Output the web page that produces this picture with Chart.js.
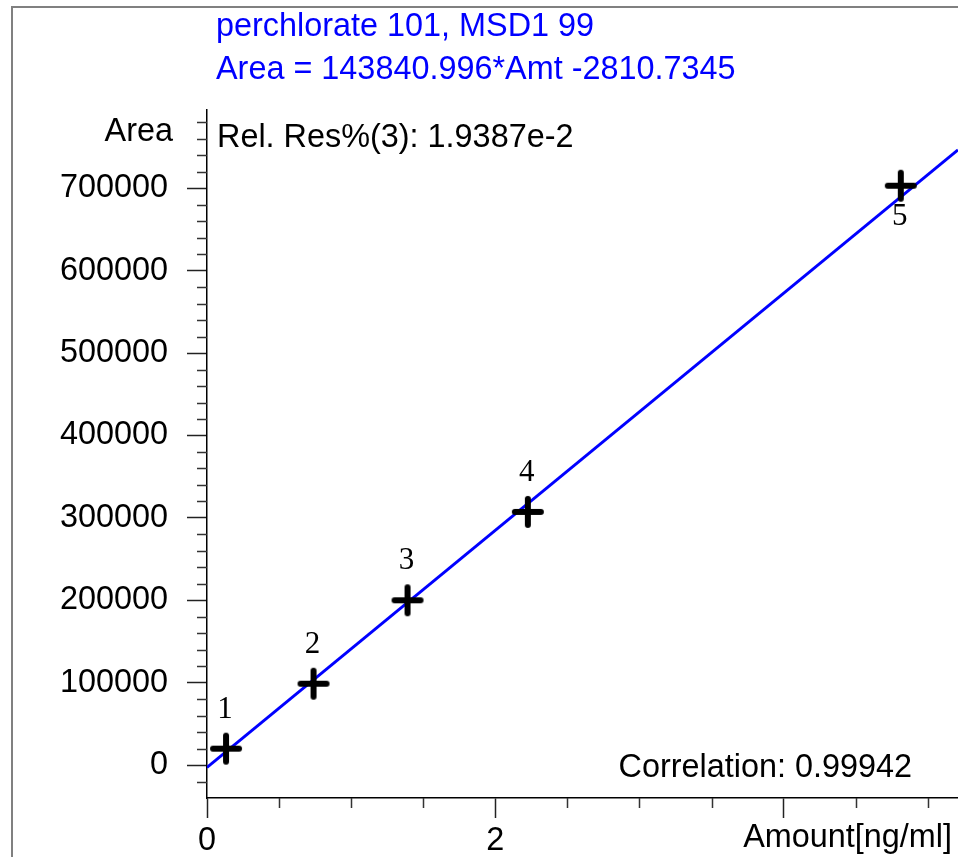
<!DOCTYPE html>
<html>
<head>
<meta charset="utf-8">
<script src="https://cdn.jsdelivr.net/npm/chart.js@4.4.1/dist/chart.umd.min.js"></script>
<style>
  html, body { margin: 0; padding: 0; background: #fff; }
  canvas { display: block; }
</style>
</head>
<body>
<canvas id="calChart" width="958" height="857"></canvas>
<script>
// calibration levels (amount vs. peak area)
const amounts = [0.132, 0.739, 1.391, 2.226, 4.813];
const areas = [19900, 98700, 200000, 307200, 703100];
const levelLabels = ['1', '2', '3', '4', '5'];

// fit: Area = slope*Amt + intercept
const slope = 143840.996;
const intercept = -2810.7345;

const yTicks = [0, 100000, 200000, 300000, 400000, 500000, 600000, 700000];
const xTicks = [0, 2, 4];
const xTickLabels = ['0', '2', ''];

const titleLines = ['perchlorate 101, MSD1 99', 'Area = 143840.996*Amt -2810.7345'];
const relRes = 'Rel. Res%(3): 1.9387e-2';
const correlation = 'Correlation: 0.99942';

const xMin = 0, xMax = 5.21;
const yMin = -40000, yMax = 795000;

const SANS = "'Liberation Sans', Arial, sans-serif";
const SERIF = "'Liberation Serif', 'Times New Roman', serif";
const FONT_SIZE = 32.4;

// "+" marker with round ends
const cross = document.createElement('canvas');
cross.width = 36;
cross.height = 36;
(function() {
  const c = cross.getContext('2d');
  c.strokeStyle = '#000';
  c.lineWidth = 6;
  c.lineCap = 'round';
  c.beginPath();
  c.moveTo(5, 18); c.lineTo(31, 18);
  c.moveTo(18, 5); c.lineTo(18, 31);
  c.stroke();
})();

const points = amounts.map((a, i) => ({ x: a, y: areas[i] }));
const fitLine = [xMin, xMax].map(x => ({ x: x, y: slope * x + intercept }));

// frame, minor ticks and text blocks
const decorations = {
  id: 'decorations',
  beforeDraw(chart) {
    const ctx = chart.ctx;
    ctx.save();
    ctx.fillStyle = '#fff';
    ctx.fillRect(0, 0, chart.width, chart.height);
    ctx.strokeStyle = '#808080';
    ctx.lineWidth = 2;
    ctx.strokeRect(12, 7, chart.width + 20, chart.height + 20);
    ctx.restore();
  },
  afterDraw(chart) {
    const ctx = chart.ctx;
    const xs = chart.scales.x, ys = chart.scales.y;
    const area = chart.chartArea;
    ctx.save();

    // minor ticks
    ctx.strokeStyle = '#333';
    ctx.lineWidth = 1.5;
    ctx.beginPath();
    for (let v = -20000; v < yMax; v += 20000) {
      if (v % 100000 === 0) continue;
      const py = Math.round(ys.getPixelForValue(v)) + 0.5;
      ctx.moveTo(area.left - 10, py);
      ctx.lineTo(area.left, py);
    }
    for (let v = 0.5; v < xMax; v += 0.5) {
      if (xTicks.includes(v)) continue;
      const px = Math.round(xs.getPixelForValue(v)) + 0.5;
      ctx.moveTo(px, area.bottom);
      ctx.lineTo(px, area.bottom + 10);
    }
    ctx.stroke();

    // level numbers next to each marker
    const meta = chart.getDatasetMeta(1);
    ctx.font = '31px ' + SERIF;
    ctx.fillStyle = '#000';
    ctx.textAlign = 'center';
    ctx.textBaseline = 'middle';
    meta.data.forEach((pt, i) => {
      const below = i === meta.data.length - 1;
      ctx.fillText(levelLabels[i], pt.x - 1, below ? pt.y + 31 : pt.y - 39);
    });

    // header and annotations
    ctx.textBaseline = 'alphabetic';
    ctx.font = FONT_SIZE + 'px ' + SANS;
    ctx.textAlign = 'left';
    ctx.fillStyle = '#0000ff';
    ctx.fillText(titleLines[0], 216, 36);
    ctx.fillText(titleLines[1], 216, 79);

    ctx.fillStyle = '#000';
    ctx.fillText(relRes, 217, 147);
    ctx.textAlign = 'right';
    ctx.fillText('Area', 173, 141);
    ctx.fillText(correlation, 912, 777);
    ctx.fillText('Amount[ng/ml]', 952, 847);
    ctx.restore();
  }
};

new Chart(document.getElementById('calChart'), {
  type: 'scatter',
  data: {
    datasets: [
      {
        type: 'line',
        data: fitLine,
        borderColor: '#0000ff',
        borderWidth: 3,
        pointRadius: 0,
        fill: false,
        order: 2
      },
      {
        data: points,
        pointStyle: cross,
        pointRadius: 16,
        order: 1
      }
    ]
  },
  options: {
    responsive: false,
    animation: false,
    devicePixelRatio: 1,
    layout: { autoPadding: false, padding: { top: 110, right: 0, bottom: 0, left: 0 } },
    plugins: {
      legend: { display: false },
      tooltip: { enabled: false }
    },
    scales: {
      x: {
        type: 'linear',
        min: xMin,
        max: xMax,
        afterFit(scale) { scale.height = 59; },
        afterBuildTicks(scale) { scale.ticks = xTicks.map(v => ({ value: v })); },
        grid: { drawOnChartArea: false, tickLength: 20, tickColor: '#222', tickWidth: 1.5 },
        border: { display: true, color: '#000', width: 1.5 },
        ticks: {
          padding: 4,
          color: '#000',
          font: { family: SANS, size: FONT_SIZE },
          maxRotation: 0,
          callback: (v) => xTickLabels[xTicks.indexOf(v)] ?? ''
        }
      },
      y: {
        type: 'linear',
        min: yMin,
        max: yMax,
        afterFit(scale) { scale.width = 207; },
        afterBuildTicks(scale) { scale.ticks = yTicks.map(v => ({ value: v })); },
        grid: { drawOnChartArea: false, tickLength: 20, tickColor: '#222', tickWidth: 1.5 },
        border: { display: true, color: '#000', width: 1.5 },
        ticks: {
          padding: 19,
          color: '#000',
          font: { family: SANS, size: FONT_SIZE },
          callback: (v) => String(v)
        }
      }
    }
  },
  plugins: [decorations]
});
</script>
</body>
</html>
